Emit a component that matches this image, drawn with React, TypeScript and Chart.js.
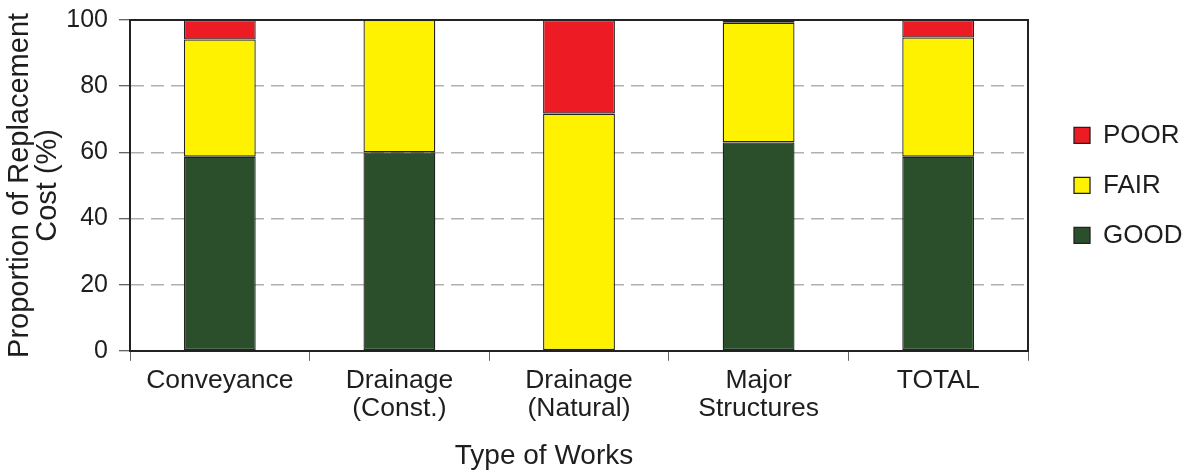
import React, { useEffect, useRef } from 'react';
import { Chart, registerables } from 'chart.js';

Chart.register(...registerables);

const categories: string[][] = [
  ['Conveyance'],
  ['Drainage', '(Const.)'],
  ['Drainage', '(Natural)'],
  ['Major', 'Structures'],
  ['TOTAL'],
];
const goodValues = [58.7, 60, 0, 63, 58.7];
const fairValues = [35.4, 40, 71.7, 36.2, 36];
const poorValues = [5.9, 0, 28.3, 0.8, 5.3];
const yTickValues = [0, 20, 40, 60, 80, 100];

const GOOD_COLOR = '#2A4F2A';
const FAIR_COLOR = '#FFF200';
const POOR_COLOR = '#ED1C24';
const TEXT = '#1e1e1e';

// x title is set off-centre (to the left) in the reference; trailing spaces keep it there
const X_TITLE = 'Type of Works' + '\u00A0'.repeat(9);

export default function App() {
  const ref = useRef<HTMLCanvasElement>(null);

  useEffect(() => {
    Chart.defaults.font.family = "'Liberation Sans', Arial, Helvetica, sans-serif";
    Chart.defaults.color = TEXT;
    const barCommon = {
      borderColor: '#222',
      borderWidth: 1.3,
      borderSkipped: false as const,
      barPercentage: 0.4,
      categoryPercentage: 1,
    };
    const chart = new Chart(ref.current as HTMLCanvasElement, {
      type: 'bar',
      data: {
        labels: categories,
        datasets: [
          { label: 'GOOD', data: goodValues, backgroundColor: GOOD_COLOR, ...barCommon },
          { label: 'FAIR', data: fairValues, backgroundColor: FAIR_COLOR, ...barCommon },
          { label: 'POOR', data: poorValues, backgroundColor: POOR_COLOR, ...barCommon },
        ],
      },
      options: {
        animation: false,
        responsive: true,
        maintainAspectRatio: false,
        layout: { padding: { left: 2, right: 3, top: 20, bottom: 0 } },
        plugins: {
          legend: {
            position: 'right',
            reverse: true,
            fullSize: false,
            maxWidth: 134,
            labels: {
              boxWidth: 16,
              boxHeight: 16,
              padding: 24,
              color: TEXT,
              font: { size: 26 },
            },
          },
          tooltip: { enabled: false },
        },
        scales: {
          x: {
            stacked: true,
            grid: {
              offset: true,
              drawOnChartArea: false,
              tickLength: 10,
              color: '#666',
              lineWidth: 1,
            },
            border: { color: '#222', width: 2 },
            ticks: {
              color: TEXT,
              font: { size: 26.5, lineHeight: 1.06 },
              padding: 6,
              maxRotation: 0,
              autoSkip: false,
            },
            title: {
              display: true,
              text: X_TITLE,
              color: TEXT,
              font: { size: 28, lineHeight: 1.0 },
              padding: { top: 13, bottom: 0 },
            },
          },
          x2: {
            type: 'category',
            position: 'top',
            labels: categories.map((c) => c.join(' ')),
            grid: { display: false },
            ticks: { display: false },
            border: { color: '#222', width: 2 },
            afterFit: (s: any) => {
              s.height = 0;
            },
          },
          y: {
            stacked: true,
            min: 0,
            max: 100,
            afterBuildTicks: (s: any) => {
              s.ticks = yTickValues.map((v) => ({ value: v }));
            },
            afterFit: (s: any) => {
              s.width = 128;
            },
            grid: {
              color: '#b0b0b0',
              lineWidth: 1.5,
              tickBorderDash: [],
              tickColor: '#333',
              tickWidth: 1,
              tickLength: 11,
            },
            border: { color: '#222', width: 2, dash: [13, 7] },
            ticks: {
              color: TEXT,
              font: { size: 25, lineHeight: 0.7 },
              padding: 11,
            },
            title: {
              display: true,
              text: ['Proportion of Replacement', 'Cost (%)'],
              color: TEXT,
              font: { size: 29, lineHeight: 0.966 },
              padding: { top: 4, bottom: 0 },
            },
          },
          y2: {
            type: 'linear',
            position: 'right',
            grid: { display: false },
            ticks: { display: false },
            border: { color: '#222', width: 2 },
            afterFit: (s: any) => {
              s.width = 22;
            },
          },
        },
      } as any,
    });
    return () => chart.destroy();
  }, []);

  return (
    <div
      style={{
        position: 'fixed',
        left: 0,
        top: 0,
        width: 1187,
        height: 470,
        background: '#fff',
      }}
    >
      <canvas ref={ref} />
    </div>
  );
}
